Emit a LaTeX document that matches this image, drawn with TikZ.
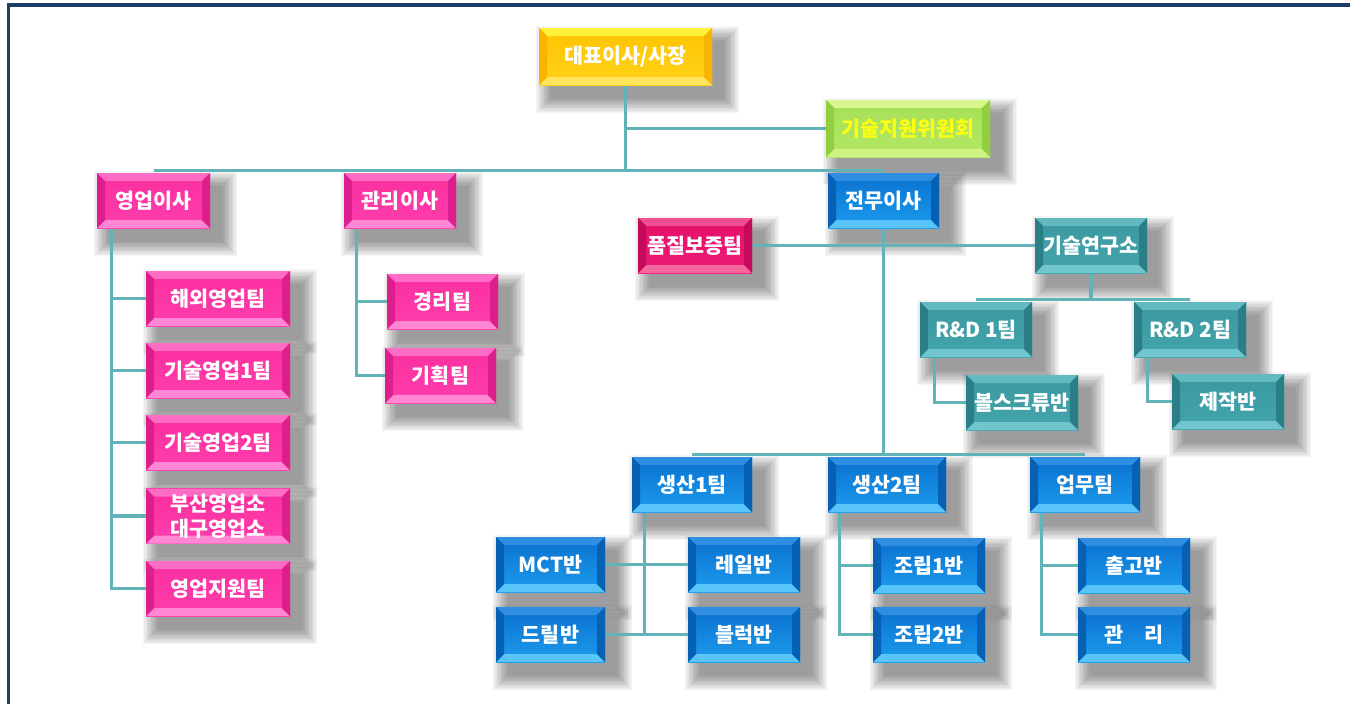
\documentclass[tikz,border=0pt]{standalone}
\usepackage{fontspec}
\newfontfamily\kfont{Noto Sans CJK KR}
\usetikzlibrary{calc}
% colour families: T top facet, B bottom facet, S side facets, F1/F2 face gradient
\definecolor{yeT}{HTML}{FFF23A}\definecolor{yeB}{HTML}{FFE45C}\definecolor{yeS}{HTML}{F7B400}\definecolor{yeF1}{HTML}{FFC400}\definecolor{yeF2}{HTML}{FFD21A}
\definecolor{grT}{HTML}{D8F78E}\definecolor{grB}{HTML}{CFF282}\definecolor{grS}{HTML}{92CF3E}\definecolor{grF1}{HTML}{A6E056}\definecolor{grF2}{HTML}{B2E766}
\definecolor{pkT}{HTML}{FF6CC6}\definecolor{pkB}{HTML}{FF86D2}\definecolor{pkS}{HTML}{DC1F8C}\definecolor{pkF1}{HTML}{FA2E9E}\definecolor{pkF2}{HTML}{FF3EAD}
\definecolor{mgT}{HTML}{F04E8E}\definecolor{mgB}{HTML}{F4689E}\definecolor{mgS}{HTML}{C40A5A}\definecolor{mgF1}{HTML}{E4106A}\definecolor{mgF2}{HTML}{EC1C76}
\definecolor{blT}{HTML}{2F8EE2}\definecolor{blB}{HTML}{58C4FA}\definecolor{blS}{HTML}{0660B4}\definecolor{blF1}{HTML}{0A70CE}\definecolor{blF2}{HTML}{1C9CEE}
\definecolor{tlT}{HTML}{62B9C0}\definecolor{tlB}{HTML}{70C6CC}\definecolor{tlS}{HTML}{2A7F86}\definecolor{tlF1}{HTML}{3A98A0}\definecolor{tlF2}{HTML}{44A4AC}
\definecolor{linec}{HTML}{62B3B7}
\definecolor{framec}{HTML}{1F3C68}
\definecolor{txtyel}{HTML}{FFFF10}
\pgfdeclarelayer{shadow}\pgfdeclarelayer{lines}
\pgfsetlayers{shadow,lines,main}
\tikzset{
  box/.style={rectangle, inner sep=0pt, minimum height=41.25pt, text=white,
    font=\kfont\bfseries\fontsize{15.5}{21}\selectfont, align=center,
    top color=#1F1, bottom color=#1F2,
    path picture={
      \coordinate (ppa) at (path picture bounding box.north west);
      \coordinate (ppb) at (path picture bounding box.north east);
      \coordinate (ppc) at (path picture bounding box.south east);
      \coordinate (ppd) at (path picture bounding box.south west);
      \fill[#1T] (ppa) -- (ppb) -- ([shift={(-6pt,-6pt)}]ppb) -- ([shift={(6pt,-6pt)}]ppa) -- cycle;
      \fill[#1B] (ppd) -- (ppc) -- ([shift={(-6pt,6pt)}]ppc) -- ([shift={(6pt,6pt)}]ppd) -- cycle;
      \fill[#1S] (ppa) -- ([shift={(6pt,-6pt)}]ppa) -- ([shift={(6pt,6pt)}]ppd) -- (ppd) -- cycle;
      \fill[#1S] (ppb) -- ([shift={(-6pt,-6pt)}]ppb) -- ([shift={(-6pt,6pt)}]ppc) -- (ppc) -- cycle;
    }},
  wd/.style={minimum width=#1*0.75pt},
  ht/.style={minimum height=#1*0.75pt},
  conn/.style={draw=linec, line width=2.5pt},
}
\begin{document}
\begin{tikzpicture}[x=0.75pt,y=-0.75pt]
\useasboundingbox (0,0) rectangle (1350,704);
% frame
\draw[framec, line width=2.4pt] (8.5,704) -- (8.5,5) -- (1350,5);

% nodes
\node[box=ye, wd=173, ht=57] (ceo) at (625.5,56.5) {대표이사/사장};
\node[box=gr, wd=164, ht=57, text=txtyel] (gisul) at (908,128.5) {기술지원위원회};
\node[box=pk, wd=113] (yeong) at (153.5,200.5) {영업이사};
\node[box=pk, wd=112] (gwanri) at (400,200.5) {관리이사};
\node[box=bl, wd=111] (jeonmu) at (883.5,200.5) {전무이사};
\node[box=mg, wd=114] (qa) at (695,245.5) {품질보증팀};
\node[box=tl, wd=112] (lab) at (1091,245.5) {기술연구소};
\node[box=tl, wd=112] (rd1) at (976,329.5) {R\&D 1팀};
\node[box=tl, wd=112] (rd2) at (1190,329.5) {R\&D 2팀};
\node[box=tl, wd=112] (ball) at (1022,402.5) {볼스크류반};
\node[box=tl, wd=112] (make) at (1228,401.5) {제작반};
\node[box=pk, wd=144] (s1) at (218,298.5) {해외영업팀};
\node[box=pk, wd=144] (s2) at (218,370.5) {기술영업1팀};
\node[box=pk, wd=144] (s3) at (218,442.5) {기술영업2팀};
\node[box=pk, wd=144] (s4) at (218,516) {부산영업소\\[-2pt]대구영업소};
\node[box=pk, wd=144] (s5) at (218,588.5) {영업지원팀};
\node[box=pk, wd=111] (acc) at (442.5,301.5) {경리팀};
\node[box=pk, wd=111] (plan) at (440.5,375.5) {기획팀};
\node[box=bl, wd=120] (p1) at (692,484.5) {생산1팀};
\node[box=bl, wd=118] (p2) at (887,484.5) {생산2팀};
\node[box=bl, wd=110] (work) at (1085,484.5) {업무팀};
\node[box=bl, wd=109] (mct) at (550.5,564.5) {MCT반};
\node[box=bl, wd=109] (drill) at (550.5,634.5) {드릴반};
\node[box=bl, wd=112] (rail) at (744,564.5) {레일반};
\node[box=bl, wd=112] (block) at (744,634.5) {블럭반};
\node[box=bl, wd=112] (as1) at (929,565.5) {조립1반};
\node[box=bl, wd=112] (as2) at (929,634.5) {조립2반};
\node[box=bl, wd=112] (ship) at (1134,565.5) {출고반};
\node[box=bl, wd=112] (mgmt) at (1134,634.5) {관\quad 리};

% connectors
\begin{pgfonlayer}{lines}
\coordinate (busL) at ([yshift=1.5pt]yeong.north);
\coordinate (busR) at ([yshift=1.5pt]jeonmu.north);
\draw[conn] (busL) -- (busR);
\draw[conn] (ceo.south) -- (ceo.south |- busL);
\draw[conn] (ceo.south |- gisul.west) -- (gisul.west);
% sales
\coordinate (yt) at ([xshift=15*0.75pt]yeong.south west);
\draw[conn] (yt) |- (s5.west);
\foreach \n in {s1,s2,s3,s4} \draw[conn] (yt |- \n.west) -- (\n.west);
% admin
\coordinate (gt) at ([xshift=13*0.75pt]gwanri.south west);
\draw[conn] (gt) |- (plan.west);
\draw[conn] (gt |- acc.west) -- (acc.west);
% executive
\coordinate (pbL) at ([yshift=1.5pt]p1.north);
\coordinate (pbR) at ([yshift=1.5pt]work.north);
\draw[conn] (pbL) -- (pbR);
\draw[conn] (jeonmu.south) -- (jeonmu.south |- pbL);
\draw[conn] (qa.east) -- (lab.west);
% lab
\coordinate (rbL) at ([yshift=1.5pt]rd1.north);
\coordinate (rbR) at ([yshift=1.5pt]rd2.north);
\draw[conn] (rbL) -- (rbR);
\draw[conn] (lab.south) -- (lab.south |- rbL);
\draw[conn] ([xshift=15*0.75pt]rd1.south west) |- (ball.west);
\draw[conn] ([xshift=14*0.75pt]rd2.south west) |- (make.west);
% production 1
\coordinate (t1) at ([xshift=13*0.75pt]p1.south west);
\draw[conn] (t1) -- (t1 |- drill.east);
\draw[conn] (mct.east) -- (rail.west);
\draw[conn] (drill.east) -- (block.west);
% production 2
\coordinate (t2) at ([xshift=12*0.75pt]p2.south west);
\draw[conn] (t2) |- (as2.west);
\draw[conn] (t2 |- as1.west) -- (as1.west);
% work
\coordinate (t3) at ([xshift=12*0.75pt]work.south west);
\draw[conn] (t3) |- (mgmt.west);
\draw[conn] (t3 |- ship.west) -- (ship.west);
\end{pgfonlayer}

% soft drop shadows
\begin{pgfonlayer}{shadow}
\foreach \n in {ceo,gisul,yeong,gwanri,jeonmu,qa,lab,rd1,rd2,ball,make,s1,s2,s3,s4,s5,acc,plan,p1,p2,work,mct,drill,rail,block,as1,as2,ship,mgmt}{
  \foreach \k in {0,...,11}{
    \fill[black, opacity=0.04]
      ([shift={(9pt-\k*1pt,-10pt+\k*1pt)}]\n.north west) rectangle
      ([shift={(9pt+\k*1pt,-10pt-\k*1pt)}]\n.south east);
  }
}
\end{pgfonlayer}
\end{tikzpicture}
\end{document}
